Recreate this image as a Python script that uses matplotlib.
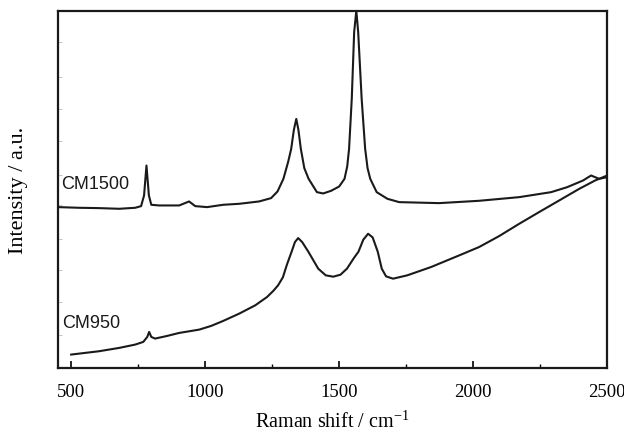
import matplotlib
matplotlib.use("Agg")
import matplotlib.pyplot as plt

# CM1500 spectrum (Raman shift in cm-1, intensity in a.u.)
cm1500_x = [451, 530, 604, 679, 739, 761, 772, 781, 790, 799, 828, 903, 940, 963,
            1007, 1067, 1127, 1201, 1246, 1270, 1292, 1310, 1321, 1331, 1340, 1348,
            1357, 1370, 1386, 1417, 1440, 1470, 1500, 1520, 1530, 1537, 1547, 1556,
            1564, 1571, 1584, 1597, 1606, 1616, 1640, 1680, 1724, 1873, 2022, 2172,
            2291, 2351, 2410, 2440, 2470, 2500]
cm1500_y = [483, 481, 480, 478, 481, 486, 518, 608, 518, 490, 488, 488, 500, 486,
            483, 490, 493, 500, 510, 530, 568, 620, 658, 715, 748, 715,
            658, 600, 568, 528, 524, 532, 545, 568, 605, 658, 808, 1009,
            1073, 1009, 808, 658, 600, 568, 528, 508, 498, 495, 502, 513,
            528, 543, 563, 578, 568, 573]

# CM950 spectrum
cm950_x = [500, 604, 679, 739, 769, 784, 791, 799, 813, 858, 903, 978, 1022, 1067,
           1127, 1187, 1231, 1255, 1272, 1290, 1305, 1323, 1335, 1347, 1362, 1385,
           1422, 1450, 1478, 1505, 1529, 1555, 1572, 1590, 1608, 1625, 1644, 1659,
           1675, 1701, 1754, 1843, 1948, 2022, 2097, 2172, 2246, 2321, 2396, 2455,
           2500]
cm950_y = [40, 50, 60, 70, 78, 93, 108, 93, 88, 96, 105, 115, 126, 141,
           163, 188, 213, 232, 248, 272, 310, 350, 378, 390, 378, 349,
           298, 278, 274, 280, 298, 330, 349, 385, 403, 392, 349, 298,
           275, 268, 278, 303, 338, 363, 396, 433, 468, 503, 538, 563,
           578]

labels = ["CM1500", "CM950"]
x_ticks = [500, 1000, 1500, 2000, 2500]
y_ticks = [98, 198, 293, 388, 488, 578, 683, 778, 873, 978]

fig = plt.figure(figsize=(6.24, 4.35), dpi=100)
ax = fig.add_axes([0.093, 0.152, 0.880, 0.821])

ax.plot(cm1500_x, cm1500_y, color="#1a1a1a", lw=1.5)
ax.plot(cm950_x, cm950_y, color="#1a1a1a", lw=1.5)

ax.text(462, 555, labels[0], fontsize=13, family="Liberation Sans", color="#1a1a1a", va="center")
ax.text(467, 137, labels[1], fontsize=13, family="Liberation Sans", color="#1a1a1a", va="center")

ax.set_xlim(451, 2500)
ax.set_ylim(0, 1073)
ax.set_xticks(x_ticks)
ax.set_xticks([750, 1250, 1750, 2250], minor=True)
ax.set_yticks(y_ticks)
ax.set_yticklabels([])
ax.tick_params(axis="x", which="major", direction="in", length=5, width=1.2,
               labelsize=13.5, pad=11, top=False)
ax.tick_params(axis="x", which="minor", direction="in", length=3, width=1.0, top=False)
ax.tick_params(axis="y", which="major", direction="in", length=3, width=0.6,
               color="#bbbbbb", right=False)
for lab in ax.get_xticklabels():
    lab.set_family("Liberation Serif")

for s in ax.spines.values():
    s.set_linewidth(1.6)
    s.set_color("#1a1a1a")

ax.set_xlabel("Raman shift / cm$^{\\mathregular{-1}}$", fontsize=14.5, family="Liberation Serif", labelpad=7)
ax.set_ylabel("Intensity / a.u.", fontsize=16, family="Liberation Serif", labelpad=18)

fig.savefig("out.png", dpi=100)
